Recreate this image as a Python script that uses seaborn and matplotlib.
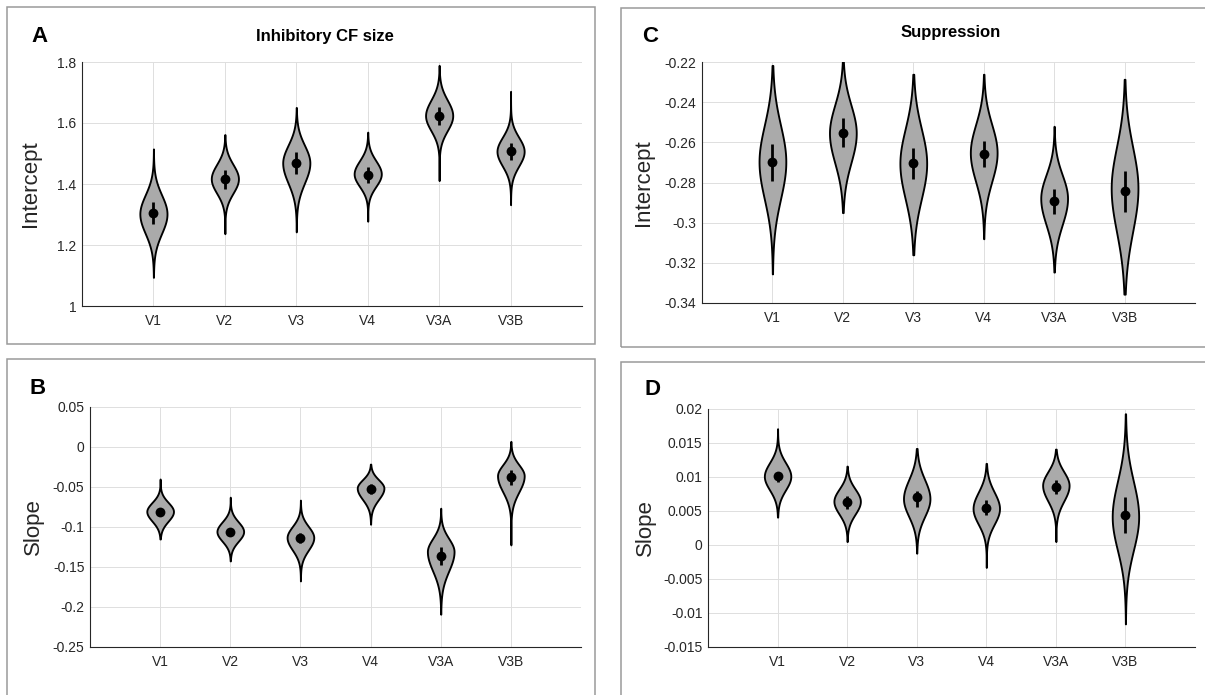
import numpy as np
import pandas as pd
import matplotlib
matplotlib.use("Agg")
import matplotlib.pyplot as plt
from matplotlib.patches import Rectangle
import seaborn as sns

# ---------------- data ----------------
regions = ["V1", "V2", "V3", "V4", "V3A", "V3B"]

# Panel A: Inhibitory CF size, intercept
A_center = [1.302, 1.417, 1.469, 1.433, 1.624, 1.507]
A_sd_lo = [0.064, 0.047, 0.066, 0.041, 0.049, 0.048]
A_sd_hi = [0.062, 0.047, 0.058, 0.043, 0.051, 0.046]
A_tail_lo = [1.094, 1.237, 1.243, 1.278, 1.411, 1.332]
A_tail_hi = [1.515, 1.562, 1.651, 1.570, 1.789, 1.704]
A_mean = [1.305, 1.415, 1.470, 1.431, 1.624, 1.507]
A_ci_lo = [1.270, 1.385, 1.434, 1.403, 1.595, 1.479]
A_ci_hi = [1.340, 1.445, 1.505, 1.455, 1.652, 1.533]
A_ticks = [1.0, 1.2, 1.4, 1.6, 1.8]
A_ticklabels = ["1", "1.2", "1.4", "1.6", "1.8"]

# Panel B: Inhibitory CF size, slope
B_center = [-0.0806, -0.1057, -0.1132, -0.0514, -0.1307, -0.0360]
B_sd_lo = [0.0121, 0.0121, 0.0155, 0.0141, 0.0242, 0.0201]
B_sd_hi = [0.0113, 0.0121, 0.0138, 0.0105, 0.0163, 0.0138]
B_tail_lo = [-0.115, -0.1424, -0.1674, -0.0965, -0.209, -0.1224]
B_tail_hi = [-0.040, -0.0627, -0.0664, -0.0214, -0.0765, 0.007]
B_mean = [-0.081, -0.106, -0.114, -0.0527, -0.1357, -0.0377]
B_ci_lo = [-0.0856, -0.1107, -0.120, -0.0589, -0.1474, -0.0472]
B_ci_hi = [-0.0765, -0.1007, -0.108, -0.0464, -0.1245, -0.0285]
B_ticks = [-0.25, -0.2, -0.15, -0.1, -0.05, 0.0, 0.05]
B_ticklabels = ["-0.25", "-0.2", "-0.15", "-0.1", "-0.05", "0", "0.05"]

# Panel C: Suppression, intercept
C_center = [-0.2697, -0.2554, -0.2705, -0.2652, -0.2879, -0.2829]
C_sd_lo = [0.0185, 0.0148, 0.0176, 0.0143, 0.0131, 0.0215]
C_sd_hi = [0.0182, 0.0140, 0.0172, 0.0140, 0.0117, 0.0205]
C_tail_lo = [-0.3255, -0.295, -0.316, -0.308, -0.3246, -0.3356]
C_tail_hi = [-0.2217, -0.219, -0.2261, -0.2261, -0.252, -0.2286]
C_mean = [-0.2697, -0.2554, -0.2705, -0.2657, -0.2892, -0.2842]
C_ci_lo = [-0.2793, -0.2625, -0.2784, -0.2723, -0.2955, -0.2945]
C_ci_hi = [-0.2609, -0.2481, -0.2627, -0.2592, -0.2834, -0.2743]
C_ticks = [-0.34, -0.32, -0.30, -0.28, -0.26, -0.24, -0.22]
C_ticklabels = ["-0.34", "-0.32", "-0.3", "-0.28", "-0.26", "-0.24", "-0.22"]

# Panel D: Suppression, slope
D_center = [0.0101, 0.00643, 0.0068, 0.00536, 0.00877, 0.00414]
D_sd_lo = [0.0020, 0.0019, 0.0026, 0.0023, 0.0023, 0.0049]
D_sd_hi = [0.0020, 0.0018, 0.0028, 0.0024, 0.0020, 0.0052]
D_tail_lo = [0.0041, 0.0005, -0.0012, -0.0033, 0.0005, -0.0116]
D_tail_hi = [0.0171, 0.0116, 0.0142, 0.0120, 0.0141, 0.0193]
D_mean = [0.0101, 0.00633, 0.0070, 0.0055, 0.0086, 0.00438]
D_ci_lo = [0.0092, 0.00536, 0.0056, 0.00438, 0.00755, 0.0017]
D_ci_hi = [0.0108, 0.0072, 0.0080, 0.00658, 0.0095, 0.00706]
D_ticks = [-0.015, -0.01, -0.005, 0.0, 0.005, 0.01, 0.015, 0.02]
D_ticklabels = ["-0.015", "-0.01", "-0.005", "0", "0.005", "0.01", "0.015", "0.02"]

# ---------------- style ----------------
sns.set_theme(style="white")
plt.rcParams["font.family"] = ["Liberation Sans", "DejaVu Sans"]

W, H = 1205, 695
fig = plt.figure(figsize=(W / 100, H / 100), dpi=100)

TXT = "#262626"
GRID = "#dedede"
VIOLIN_FACE = "#aaaaaa"
FRAME = "#9a9a9a"


def add_axes_px(l, r, t, b):
    return fig.add_axes([l / W, 1 - b / H, (r - l) / W, (b - t) / H])


def frame_px(l, r, t, b):
    fig.patches.append(Rectangle((l / W, 1 - b / H), (r - l) / W, (b - t) / H,
                                 transform=fig.transFigure, fill=False,
                                 edgecolor=FRAME, linewidth=1.1, zorder=0))


panels = [
    dict(letter="A", title="Inhibitory CF size", ylabel="Intercept",
         box=(82, 582, 62, 306), frame=(7, 595, 7, 344),
         letter_xy=(39, 37), title_xy=(325, 37), ylabel_x=30.5,
         center=A_center, sd_lo=A_sd_lo, sd_hi=A_sd_hi,
         tail_lo=A_tail_lo, tail_hi=A_tail_hi, mean=A_mean,
         ci_lo=A_ci_lo, ci_hi=A_ci_hi, ticks=A_ticks, ticklabels=A_ticklabels),
    dict(letter="B", title=None, ylabel="Slope",
         box=(90, 581, 407, 647), frame=(7, 595, 359, 710),
         letter_xy=(38, 388), title_xy=None, ylabel_x=33.6,
         center=B_center, sd_lo=B_sd_lo, sd_hi=B_sd_hi,
         tail_lo=B_tail_lo, tail_hi=B_tail_hi, mean=B_mean,
         ci_lo=B_ci_lo, ci_hi=B_ci_hi, ticks=B_ticks, ticklabels=B_ticklabels),
    dict(letter="C", title="Suppression", ylabel="Intercept",
         box=(702, 1195, 62, 303), frame=(621, 1215, 8, 347),
         letter_xy=(650, 37), title_xy=(951, 32), ylabel_x=643,
         center=C_center, sd_lo=C_sd_lo, sd_hi=C_sd_hi,
         tail_lo=C_tail_lo, tail_hi=C_tail_hi, mean=C_mean,
         ci_lo=C_ci_lo, ci_hi=C_ci_hi, ticks=C_ticks, ticklabels=C_ticklabels),
    dict(letter="D", title=None, ylabel="Slope",
         box=(708, 1195, 409, 647), frame=(621, 1215, 362, 710),
         letter_xy=(652, 389), title_xy=None, ylabel_x=645.5,
         center=D_center, sd_lo=D_sd_lo, sd_hi=D_sd_hi,
         tail_lo=D_tail_lo, tail_hi=D_tail_hi, mean=D_mean,
         ci_lo=D_ci_lo, ci_hi=D_ci_hi, ticks=D_ticks, ticklabels=D_ticklabels),
]

HALF_W = 0.19

for p in panels:
    l, r, t, b = p["box"]
    frame_px(*p["frame"])
    ax = add_axes_px(l, r, t, b)
    ax.set_facecolor("white")

    df = pd.DataFrame({"region": regions, "mean": p["mean"],
                       "ci_lo": p["ci_lo"], "ci_hi": p["ci_hi"]})
    pos = np.arange(len(regions))

    # violins (density profile from read parameters)
    for i in range(len(regions)):
        y = np.linspace(p["tail_lo"][i], p["tail_hi"][i], 600)
        c = p["center"][i]
        sd = np.where(y >= c, p["sd_hi"][i], p["sd_lo"][i])
        w = HALF_W * np.exp(-0.5 * ((y - c) / sd) ** 2)
        ax.fill_betweenx(y, pos[i] - w, pos[i] + w, facecolor=VIOLIN_FACE,
                         edgecolor="black", linewidth=1.35, joinstyle="round",
                         zorder=2)

    # credible interval bars
    ax.vlines(pos, df["ci_lo"], df["ci_hi"], color="black", linewidth=2.0,
              zorder=3)
    # mean dots
    sns.scatterplot(data=df, x="region", y="mean", ax=ax, color="black",
                    s=50, edgecolor="black", linewidth=0, zorder=4,
                    legend=False)

    ax.set_xlim(-1, len(regions))
    ax.set_ylim(p["ticks"][0], p["ticks"][-1])
    ax.set_xticks(pos)
    ax.set_xticklabels(regions)
    ax.set_yticks(p["ticks"])
    ax.set_yticklabels(p["ticklabels"])
    ax.set_xlabel("")

    ax.grid(True, color=GRID, linewidth=0.7, zorder=0)
    ax.set_axisbelow(True)
    for s in ["top", "right"]:
        ax.spines[s].set_visible(False)
    for s in ["left", "bottom"]:
        ax.spines[s].set_color(TXT)
        ax.spines[s].set_linewidth(0.8)
    ax.tick_params(axis="both", direction="in", length=3, width=0.6,
                   color=TXT, labelcolor=TXT, labelsize=10)
    ax.tick_params(axis="y", pad=4)
    ax.tick_params(axis="x", pad=6)

    ax.set_ylabel(p["ylabel"], fontsize=16, color=TXT)
    ax.yaxis.label.set_rotation_mode("default")
    ax.yaxis.label.set_ha("center")
    ax.yaxis.label.set_va("center")
    ax.yaxis.set_label_coords((p["ylabel_x"] - l) / (r - l), 0.5)

    if p["title"]:
        tx, ty = p["title_xy"]
        ax.set_title(p["title"], fontsize=12, fontweight="bold", color="black",
                     x=(tx - l) / (r - l), y=1 + (t - ty) / (b - t), pad=0,
                     verticalalignment="center")

    lx, ly = p["letter_xy"]
    fig.text(lx / W, 1 - ly / H, p["letter"], fontsize=16, fontweight="bold",
             ha="center", va="center", color="black")

fig.savefig("out.png", dpi=100)
